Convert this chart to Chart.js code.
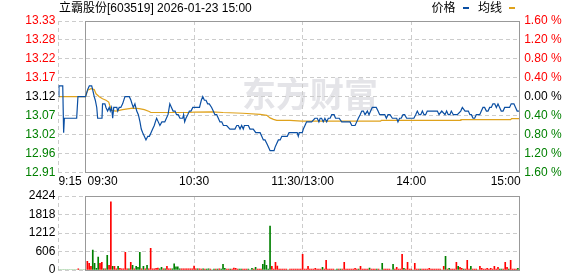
<!DOCTYPE html>
<html>
<head>
<meta charset="utf-8">
<script src="https://cdn.jsdelivr.net/npm/chart.js@4.4.1/dist/chart.umd.min.js"></script>
<style>
body{margin:0;background:#fff;}
#wrap{position:relative;width:578px;height:276px;}
canvas{position:absolute;left:0;}
</style>
</head>
<body>
<div id="wrap">
<canvas id="priceChart" width="578" height="190" style="top:0"></canvas>
<canvas id="volChart" width="578" height="86" style="top:190px"></canvas>
</div>
<script>
// 数据
const title = "立霸股份[603519] 2026-01-23 15:00";
const watermark = "东方财富";
const prevClose = 13.12;
const pctRange = 1.6;

const xTickMinutes = [0, 15, 75, 135, 195, 255];
const xTickLabels = ["9:15", "09:30", "10:30", "11:30/13:00", "14:00", "15:00"];
// dari bawah ke atas
const priceTickLabels = ["12.91", "12.96", "13.02", "13.07", "13.12", "13.17", "13.22", "13.28", "13.33"];
const pctTicks = [-1.6, -1.2, -0.8, -0.4, 0, 0.4, 0.8, 1.2, 1.6];
const volTicks = [0, 606, 1212, 1818, 2424];

// [menit sejak 9:15, harga]
const pricePoints = [
  [0,13.12],[0.3,13.15],[2.4,13.15],[2.9,13.02],[3.3,13.06],[10.1,13.06],[10.8,13.12],[15,13.12],
  [16.2,13.14],[17.1,13.15],[18.4,13.15],[18.9,13.14],[19.8,13.12],[20.4,13.11],[21.2,13.09],[21.7,13.06],
  [24.1,13.06],[24.4,13.10],[25.7,13.10],[26.3,13.09],[27.2,13.08],[28.1,13.09],[28.7,13.08],[29.4,13.09],
  [30,13.06],[30.6,13.09],[31.4,13.09],[32.3,13.09],[32.8,13.08],[33.6,13.09],[34.5,13.09],[35.5,13.10],
  [36.8,13.12],[39.2,13.12],[40.1,13.11],[40.7,13.10],[41.4,13.09],[42.3,13.10],[43.3,13.08],[44.2,13.07],
  [45.1,13.05],[45.8,13.03],[46.6,13.02],[47.5,13.01],[48.4,13.00],[49.4,13.01],[50.3,13.01],[51.2,13.02],
  [52.1,13.03],[53,13.04],[53.6,13.05],[54.3,13.06],[55.2,13.05],[56.1,13.04],[57.2,13.05],[57.9,13.05],
  [58.8,13.05],[59.7,13.06],[60.6,13.07],[61.6,13.10],[62.5,13.09],[63.4,13.08],[64.5,13.08],[65.3,13.07],
  [66.2,13.07],[67.2,13.06],[68.7,13.06],[69.2,13.07],[69.8,13.05],[70.5,13.06],[71.5,13.07],[72.4,13.08],
  [73.3,13.08],[74.3,13.09],[75.2,13.09],[76.2,13.09],[77.1,13.09],[78,13.09],[79,13.11],[79.8,13.12],
  [80.7,13.11],[81.6,13.11],[82.5,13.10],[83.4,13.10],[84.7,13.09],[85.6,13.08],[86.5,13.07],[87.5,13.07],
  [88.4,13.06],[89.3,13.05],[90.3,13.05],[91.2,13.04],[93,13.04],[94.8,13.03],[97.6,13.03],[98.6,13.04],
  [99.5,13.04],[100.4,13.03],[101.3,13.04],[102.2,13.03],[102.8,13.04],[104.1,13.04],[105,13.04],[105.9,13.03],
  [106.8,13.03],[107.7,13.03],[109.1,13.02],[111.5,13.02],[112.4,13.01],[113.3,13.00],[114.2,13.00],[115.2,12.99],
  [116.1,12.98],[117,12.97],[118,12.97],[119.2,12.97],[119.8,12.98],[120.7,12.99],[121.6,13.00],[122.6,13.00],
  [123.5,13.01],[124.4,13.01],[126.5,13.01],[127.5,13.02],[132,13.02],[132.6,13.01],[133.1,13.02],[134.8,13.02],
  [135.4,13.03],[136.3,13.04],[137.2,13.05],[140,13.05],[141.8,13.06],[143.1,13.06],[144,13.05],[144.7,13.06],
  [145.5,13.06],[146.4,13.05],[147.3,13.06],[148.3,13.05],[149.2,13.06],[150.2,13.06],[151.1,13.07],[152.4,13.07],
  [153.2,13.06],[154.1,13.06],[155.2,13.06],[156.6,13.05],[161.2,13.05],[162.2,13.04],[164,13.04],[164.9,13.05],
  [165.8,13.06],[166.8,13.07],[167.7,13.08],[168.6,13.08],[169.5,13.07],[170.8,13.08],[171.7,13.07],[172.6,13.08],
  [173.5,13.09],[174.5,13.09],[175.7,13.09],[176.7,13.08],[177.6,13.07],[179.1,13.07],[180.4,13.07],[181.3,13.06],
  [182.2,13.07],[183.3,13.07],[184.6,13.06],[185.9,13.06],[187,13.06],[187.7,13.05],[188.6,13.06],[189.5,13.06],
  [190.5,13.07],[191.4,13.07],[192.5,13.06],[195.6,13.06],[196.5,13.06],[197.5,13.07],[198.4,13.08],[199.4,13.07],
  [200.3,13.07],[201.2,13.08],[202.1,13.07],[203,13.07],[203.9,13.08],[209.5,13.08],[210.4,13.07],[211.9,13.08],
  [213.7,13.07],[214.6,13.08],[215.5,13.07],[216.4,13.07],[217.2,13.08],[218.3,13.07],[220.5,13.07],[222.4,13.08],
  [223.3,13.09],[224.8,13.08],[226.6,13.08],[227.5,13.07],[228.3,13.07],[229.2,13.06],[230.1,13.06],[231,13.07],
  [232.9,13.07],[233.8,13.08],[234.7,13.09],[235.6,13.09],[236.6,13.08],[237.5,13.08],[238.4,13.09],[239.3,13.09],
  [240.2,13.10],[241.2,13.10],[242.1,13.09],[243,13.10],[243.9,13.09],[244.8,13.08],[245.8,13.08],[246.7,13.09],
  [247.6,13.09],[248.5,13.09],[249.4,13.09],[250.3,13.10],[251.8,13.10],[252.7,13.09],[253.6,13.08],[254.6,13.08]
];

// garis rata-rata (均线)
const avgPoints = [
  [0,13.12],[15,13.12],[16.2,13.138],[18,13.142],[19.8,13.14],[20.8,13.128],[22.6,13.12],[24.4,13.114],
  [26.3,13.11],[27.8,13.105],[28.7,13.091],[29.5,13.082],[31.8,13.08],[35.5,13.084],[41,13.088],[44.7,13.087],
  [47.5,13.084],[50.2,13.079],[51.1,13.076],[72,13.076],[75,13.077],[85,13.078],[91,13.076],[102,13.074],
  [111.5,13.071],[115.2,13.068],[117,13.061],[118.9,13.057],[120.7,13.054],[128,13.054],[134.5,13.052],[178,13.052],
  [178.5,13.054],[222,13.054],[222.5,13.056],[250,13.056],[250.5,13.059],[254.6,13.059]
];

// volume per menit (index = menit sejak 9:15)
const volumes = [
  0,0,0,0,0,0,0,0,0,0,0,35,0,0,0,0,
  285,220,120,650,220,55,420,220,250,35,35,480,150,2230,120,120,
  35,120,55,35,35,580,35,35,250,150,35,120,90,580,35,120,
  35,150,35,710,35,35,55,65,35,90,35,35,120,35,35,35,
  200,100,100,35,35,35,35,35,35,35,35,130,35,35,35,30,
  35,30,30,35,30,0,30,30,30,35,30,185,55,30,30,30,
  30,65,55,30,30,30,30,30,30,30,0,55,30,90,30,30,
  30,185,320,150,30,1440,120,30,250,130,30,30,30,30,30,0,
  30,30,30,30,30,30,30,515,30,30,120,30,30,30,55,30,
  30,30,90,30,320,30,30,30,30,0,30,30,30,30,250,30,
  30,30,30,30,55,30,30,120,30,30,30,30,65,30,30,30,
  30,30,0,220,30,30,30,30,0,185,30,90,30,30,515,55,
  30,250,30,30,0,220,30,30,30,30,30,30,30,55,30,30,
  30,30,30,30,0,120,450,30,55,30,30,30,250,120,90,55,
  30,30,320,30,120,30,30,30,0,120,55,30,30,55,30,55,
  30,120,30,90,30,30,30,250,90,30,320,30,30,30,55,0
];
// 1 = naik (merah), 0 = turun (hijau)
const volUp = [
  0,0,0,0,0,0,0,0,0,0,0,1,0,0,0,0,
  1,1,1,0,0,0,0,1,1,0,1,0,1,1,0,1,
  1,0,1,1,1,1,1,0,1,0,1,0,0,0,1,0,
  1,0,1,1,1,1,1,1,0,0,1,0,1,1,1,0,
  0,0,0,0,1,1,1,1,1,1,1,1,1,0,1,1,
  0,1,0,0,1,0,0,1,0,1,0,0,0,1,1,0,
  1,1,1,1,0,0,1,1,1,0,0,0,1,0,1,1,
  1,0,0,0,0,0,1,1,1,1,1,1,1,1,1,0,
  1,1,1,1,1,1,1,1,1,1,1,1,1,1,1,1,
  1,1,0,1,1,1,1,1,1,0,0,1,0,1,1,1,
  1,1,1,1,1,1,0,1,1,1,1,1,0,1,1,1,
  0,1,0,0,1,1,1,1,0,0,1,1,1,1,1,0,
  1,1,1,1,0,1,1,1,0,1,1,1,1,1,1,1,
  1,1,1,1,0,1,0,1,0,1,1,1,1,0,1,1,
  0,1,1,1,0,1,1,1,0,1,1,1,1,1,1,1,
  1,1,1,1,0,0,1,1,1,0,1,1,1,1,0,0
];

// Gaya
const BLUE = "#0b4fa3";
const ORANGE = "#dfa21c";
const RED = "#ff0000";
const GREEN = "#008000";
const GRID = "#cccccc";
const FRAME = "#999999";
const FONT = '"Liberation Sans", "Noto Sans CJK SC", sans-serif';

Chart.defaults.font.family = FONT;
Chart.defaults.font.size = 12;
Chart.defaults.color = "#000";

const yMin = prevClose * (1 - pctRange / 100);
const yMax = prevClose * (1 + pctRange / 100);
const openMinute = xTickMinutes[1];
const closeMinute = xTickMinutes[xTickMinutes.length - 1];

function crisp(v){
    return Math.round(v - 0.5) + 0.5;
}

function fixWidth(w){
    return s=>{ s.width = w; s.paddingTop = 0; s.paddingBottom = 0; };
}

function fixHeight(h){
    return s=>{ s.height = h; s.paddingLeft = 0; s.paddingRight = 0; };
}

function timeAxis(h){
    return {
        type:"linear",
        min:xTickMinutes[0],
        max:closeMinute,
        offset:false,
        afterBuildTicks:s=>{ s.ticks = xTickMinutes.map(v=>({value:v})); },
        ticks:{display:false},
        grid:{color:GRID, drawTicks:false, offset:false},
        border:{display:false, dash:[4,3]},
        afterFit:fixHeight(h)
    };
}

function upDownColor(v, mid){
    if(v > mid + 1e-9) return RED;
    if(v < mid - 1e-9) return GREEN;
    return "#000";
}

// kotak abu-abu 9:30 - 15:00
const framePlugin = {
    id:"frame",
    beforeDatasetsDraw(chart){
        const {ctx, chartArea:a, scales:{x}} = chart;
        const l = crisp(x.getPixelForValue(openMinute));
        const r = crisp(x.getPixelForValue(closeMinute));
        const t = crisp(a.top), b = crisp(a.bottom);
        ctx.save();
        ctx.strokeStyle = FRAME;
        ctx.lineWidth = 1;
        ctx.strokeRect(l, t, r - l, b - t);
        ctx.restore();
    }
};

const watermarkPlugin = {
    id:"watermark",
    beforeDraw(chart){
        const {ctx, chartArea:a} = chart;
        ctx.save();
        ctx.fillStyle = "#e4e4e8";
        ctx.font = 'bold 34px "Noto Sans CJK SC", sans-serif';
        ctx.textAlign = "left";
        ctx.textBaseline = "middle";
        ctx.fillText(watermark, 242, (a.top + a.bottom) / 2 - 3);
        ctx.restore();
    }
};

const labelPlugin = {
    id:"labels",
    afterDraw(chart){
        const {ctx, chartArea:a, scales:{x}} = chart;
        ctx.save();
        ctx.font = "12px " + FONT;
        ctx.fillStyle = "#000";
        ctx.textBaseline = "middle";

        // label waktu
        const last = xTickLabels.length - 1;
        xTickLabels.forEach((lab, i)=>{
            let px = x.getPixelForValue(xTickMinutes[i]);
            if(i === 0){
                ctx.textAlign = "left";
            }else if(i === 1){
                ctx.textAlign = "left";
                px += 2;
            }else if(i === last){
                ctx.textAlign = "right";
                px += 1;
            }else{
                ctx.textAlign = "center";
            }
            ctx.fillText(lab, px, a.bottom + 9);
        });

        // judul
        ctx.textAlign = "left";
        ctx.fillText(title, 59, 8.5);

        // legenda: teks lalu tanda
        let lx = 431.5;
        chart.data.datasets.forEach(ds=>{
            ctx.fillStyle = "#000";
            ctx.fillText(ds.label, lx, 8.5);
            lx += ctx.measureText(ds.label).width + 7;
            ctx.fillStyle = ds.borderColor;
            ctx.fillRect(Math.round(lx), 7, 6, 2);
            lx += 15.5;
        });
        ctx.restore();
    }
};

// Grafik harga
new Chart(document.getElementById("priceChart"), {
    type:"line",
    data:{
        datasets:[
            {
                label:"价格",
                data:pricePoints.map(p=>({x:p[0], y:p[1]})),
                borderColor:BLUE,
                borderWidth:1.2,
                pointRadius:0,
                tension:0,
                yAxisID:"y"
            },
            {
                label:"均线",
                data:avgPoints.map(p=>({x:p[0], y:p[1]})),
                borderColor:ORANGE,
                borderWidth:1.2,
                pointRadius:0,
                tension:0,
                yAxisID:"y"
            }
        ]
    },
    options:{
        responsive:false,
        animation:false,
        devicePixelRatio:1,
        layout:{padding:{top:21, left:0, right:0, bottom:0}},
        plugins:{legend:{display:false}, tooltip:{enabled:false}},
        scales:{
            x:timeAxis(17.7),
            y:{
                position:"left",
                min:yMin,
                max:yMax,
                afterBuildTicks:s=>{
                    const step = (yMax - yMin) / (priceTickLabels.length - 1);
                    s.ticks = priceTickLabels.map((l, i)=>({value:yMin + i * step}));
                },
                ticks:{
                    autoSkip:false,
                    padding:3,
                    callback:(v, i)=>priceTickLabels[i],
                    color:c=>upDownColor(c.index, 4)
                },
                grid:{color:GRID, drawTicks:false},
                border:{display:false, dash:[4,3]},
                afterFit:fixWidth(58.4)
            },
            y2:{
                position:"right",
                min:-pctRange,
                max:pctRange,
                afterBuildTicks:s=>{ s.ticks = pctTicks.map(v=>({value:v})); },
                ticks:{
                    autoSkip:false,
                    padding:4.5,
                    callback:v=>Math.abs(v).toFixed(2) + " %",
                    color:c=>upDownColor(c.tick.value, 0)
                },
                grid:{display:false, drawTicks:false},
                border:{display:false},
                afterFit:fixWidth(58.3)
            }
        }
    },
    plugins:[watermarkPlugin, framePlugin, labelPlugin]
});

// Grafik volume
new Chart(document.getElementById("volChart"), {
    type:"bar",
    data:{
        datasets:[
            {
                label:"成交量",
                data:volumes.map((v, i)=>({x:i, y:v})),
                backgroundColor:volUp.map(u=>u ? RED : GREEN),
                barThickness:1,
                borderWidth:0
            }
        ]
    },
    options:{
        responsive:false,
        animation:false,
        devicePixelRatio:1,
        layout:{padding:{top:6, left:0, right:58.3, bottom:0}},
        plugins:{legend:{display:false}, tooltip:{enabled:false}},
        scales:{
            x:timeAxis(6),
            y:{
                position:"left",
                min:volTicks[0],
                max:volTicks[volTicks.length - 1],
                afterBuildTicks:s=>{ s.ticks = volTicks.map(v=>({value:v})); },
                ticks:{autoSkip:false, padding:3, color:"#000", callback:v=>String(v)},
                grid:{color:GRID, drawTicks:false},
                border:{display:false, dash:[4,3]},
                afterFit:fixWidth(58.4)
            }
        }
    },
    plugins:[framePlugin]
});
</script>
</body>
</html>
